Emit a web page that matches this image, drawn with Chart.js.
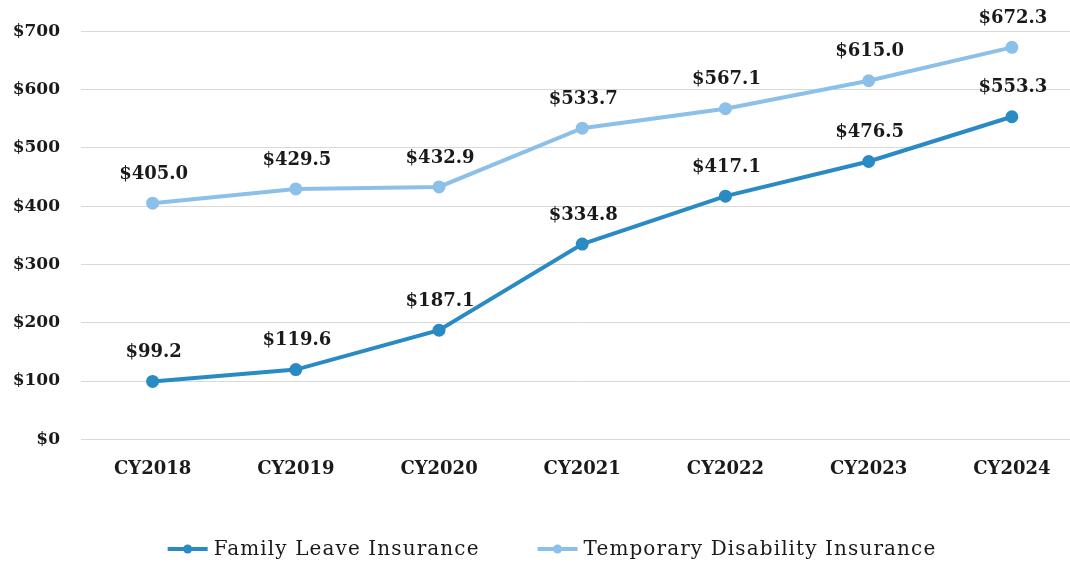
<!DOCTYPE html>
<html>
<head>
<meta charset="utf-8">
<script src="https://cdn.jsdelivr.net/npm/chart.js@4.4.1/dist/chart.umd.min.js"></script>
<style>
html,body{margin:0;padding:0;background:#fff;overflow:hidden;}
#wrap{position:absolute;left:0;top:0;width:1092px;height:564px;}
</style>
</head>
<body>
<div id="wrap"><canvas id="c" width="1092" height="564"></canvas></div>
<script>
const categories = ['CY2018','CY2019','CY2020','CY2021','CY2022','CY2023','CY2024'];
const familyLeave = [99.2, 119.6, 187.1, 334.8, 417.1, 476.5, 553.3];
const temporaryDisability = [405.0, 429.5, 432.9, 533.7, 567.1, 615.0, 672.3];
const seriesNames = ['Family Leave Insurance', 'Temporary Disability Insurance'];
const yTicks = [0, 100, 200, 300, 400, 500, 600, 700];

const FLI_COLOR = '#2A8AC4';
const TDI_COLOR = '#8DC0E8';
const SERIF = '"DejaVu Serif", "Liberation Serif", serif';

const labelPlugin = {
  id: 'valueLabels',
  afterDatasetsDraw(chart) {
    const ctx = chart.ctx;
    ctx.save();
    ctx.font = 'bold 18px ' + SERIF;
    ctx.fillStyle = '#1a1a1a';
    ctx.textAlign = 'center';
    ctx.textBaseline = 'middle';
    chart.data.datasets.forEach((ds, i) => {
      const meta = chart.getDatasetMeta(i);
      meta.data.forEach((pt, j) => {
        ctx.fillText('$' + ds.data[j].toFixed(1), pt.x + 1, pt.y - 29);
      });
    });
    ctx.restore();
  }
};

const legendPlugin = {
  id: 'customLegend',
  afterDraw(chart) {
    const ctx = chart.ctx;
    ctx.save();
    ctx.font = '20px ' + SERIF;
    ctx.letterSpacing = '1.1px';
    ctx.textBaseline = 'middle';
    ctx.textAlign = 'left';
    const y = 549;
    const markerW = 40, gap = 6, itemGap = 58;
    const items = chart.data.datasets.map(d => ({text: d.label, color: d.borderColor, w: ctx.measureText(d.label).width}));
    let total = 0;
    items.forEach((it, i) => { total += markerW + gap + it.w + (i ? itemGap : 0); });
    let x = 552 - total / 2;
    items.forEach((it, i) => {
      if (i) x += itemGap;
      ctx.strokeStyle = it.color;
      ctx.fillStyle = it.color;
      ctx.lineWidth = 4;
      ctx.beginPath();
      ctx.moveTo(x, y);
      ctx.lineTo(x + markerW, y);
      ctx.stroke();
      ctx.beginPath();
      ctx.arc(x + markerW / 2, y, 4.5, 0, Math.PI * 2);
      ctx.fill();
      x += markerW + gap;
      ctx.fillStyle = '#1a1a1a';
      ctx.fillText(it.text, x, y + 1);
      x += it.w;
    });
    ctx.restore();
  }
};

new Chart(document.getElementById('c'), {
  type: 'line',
  data: {
    labels: categories,
    datasets: [
      {
        label: seriesNames[0],
        data: familyLeave,
        borderColor: FLI_COLOR,
        backgroundColor: FLI_COLOR,
        borderWidth: 4,
        pointRadius: 4.5,
        pointHoverRadius: 4.5,
        tension: 0
      },
      {
        label: seriesNames[1],
        data: temporaryDisability,
        borderColor: TDI_COLOR,
        backgroundColor: TDI_COLOR,
        borderWidth: 4,
        pointRadius: 4.5,
        pointHoverRadius: 4.5,
        tension: 0
      }
    ]
  },
  options: {
    responsive: false,
    animation: false,
    layout: { padding: { top: 29, right: 0, bottom: 0, left: 0 } },
    plugins: {
      legend: { display: false },
      tooltip: { enabled: false }
    },
    scales: {
      x: {
        offset: true,
        grid: { display: false },
        border: { display: false },
        ticks: {
          font: { family: SERIF, size: 18, weight: 'bold' },
          color: '#1a1a1a',
          padding: 11,
          maxRotation: 0
        },
        afterFit(scale) { scale.height = 124.7; }
      },
      y: {
        min: 0,
        max: 700,
        afterBuildTicks(scale) { scale.ticks = yTicks.map(v => ({ value: v })); },
        grid: { color: '#d9d9d9', lineWidth: 1, drawTicks: false },
        border: { display: false },
        ticks: {
          font: { family: SERIF, size: 17, weight: 'bold' },
          color: '#1a1a1a',
          padding: 21,
          callback: v => '$' + v
        },
        afterFit(scale) { scale.width = 81; }
      }
    }
  },
  plugins: [labelPlugin, legendPlugin]
});
</script>
</body>
</html>
